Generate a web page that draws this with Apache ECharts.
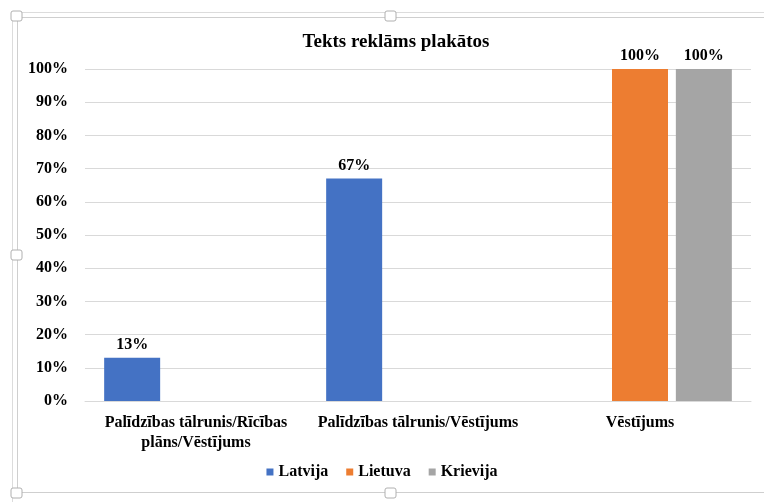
<!DOCTYPE html>
<html>
<head>
<meta charset="utf-8">
<script src="https://cdn.jsdelivr.net/npm/echarts@6/dist/echarts.min.js"></script>
<style>
  html, body { margin: 0; padding: 0; background: #fff; }
  #chart { width: 764px; height: 502px; }
</style>
</head>
<body>
<div id="chart"></div>
<script>
const categories = ['Palīdzības tālrunis/Rīcības plāns/Vēstījums', 'Palīdzības tālrunis/Vēstījums', 'Vēstījums'];
const latvija = [13, 67, null];
const lietuva = [null, null, 100];
const krievija = [null, null, 100];
const yTicks = [0, 10, 20, 30, 40, 50, 60, 70, 80, 90, 100];

const font = 'Liberation Serif';
const myChart = echarts.init(document.getElementById('chart'));

function barSeries(name, data, color) {
  return {
    name: name,
    type: 'bar',
    data: data,
    barWidth: 56,
    barGap: '14%',
    itemStyle: { color: color },
    label: {
      show: true,
      position: 'top',
      distance: 5,
      formatter: '{c}%',
      fontFamily: font,
      fontWeight: 'bold',
      fontSize: 16,
      color: '#000'
    }
  };
}

myChart.setOption({
  animation: false,
  title: {
    text: 'Tekts reklāms plakātos',
    left: 391,
    textAlign: 'center',
    top: 28,
    textStyle: { fontFamily: font, fontWeight: 'bold', fontSize: 19, color: '#000' }
  },
  legend: {
    bottom: 17,
    left: 'center',
    itemWidth: 7,
    itemHeight: 7,
    itemGap: 18,
    icon: 'rect',
    textStyle: { fontFamily: font, fontWeight: 'bold', fontSize: 16, color: '#000' }
  },
  grid: { left: 85, right: 13, top: 69, bottom: 101, containLabel: false },
  xAxis: {
    type: 'category',
    data: categories,
    axisTick: { show: false },
    axisLine: { lineStyle: { color: '#d9d9d9' } },
    axisLabel: {
      interval: 0,
      margin: 12,
      lineHeight: 20,
      // wrap the long first category the way the original does
      formatter: function (v) { return v.replace('Rīcības plāns', 'Rīcības\nplāns'); },
      fontFamily: font,
      fontWeight: 'bold',
      fontSize: 16,
      color: '#000'
    }
  },
  yAxis: {
    type: 'value',
    min: yTicks[0],
    max: yTicks[yTicks.length - 1],
    interval: 10,
    axisLabel: {
      formatter: '{value}%',
      margin: 17,
      fontFamily: font,
      fontWeight: 'bold',
      fontSize: 16,
      color: '#000'
    },
    splitLine: { lineStyle: { color: '#d9d9d9' } }
  },
  series: [
    barSeries('Latvija', latvija, '#4472C4'),
    barSeries('Lietuva', lietuva, '#ED7D31'),
    barSeries('Krievija', krievija, '#A5A5A5')
  ],
  graphic: [
    { type: 'rect', shape: { x: 17.5, y: 17.5, width: 760, height: 475 }, style: { fill: 'none', stroke: '#cfcfcf', lineWidth: 1 }, silent: true },
    { type: 'line', shape: { x1: 12.5, y1: 17, x2: 12.5, y2: 502 }, style: { stroke: '#dcdcdc', lineWidth: 1 }, silent: true },
    { type: 'line', shape: { x1: 17, y1: 12.5, x2: 764, y2: 12.5 }, style: { stroke: '#dcdcdc', lineWidth: 1 }, silent: true },
    { type: 'rect', shape: { x: 11, y: 11, width: 11, height: 10, r: 2 }, style: { fill: '#fff', stroke: '#b0b0b0' }, silent: true },
    { type: 'rect', shape: { x: 385, y: 11, width: 11, height: 10, r: 2 }, style: { fill: '#fff', stroke: '#b0b0b0' }, silent: true },
    { type: 'rect', shape: { x: 11, y: 250, width: 11, height: 10, r: 2 }, style: { fill: '#fff', stroke: '#b0b0b0' }, silent: true },
    { type: 'rect', shape: { x: 11, y: 488, width: 11, height: 10, r: 2 }, style: { fill: '#fff', stroke: '#b0b0b0' }, silent: true },
    { type: 'rect', shape: { x: 385, y: 488, width: 11, height: 10, r: 2 }, style: { fill: '#fff', stroke: '#b0b0b0' }, silent: true }
  ]
});
</script>
</body>
</html>
